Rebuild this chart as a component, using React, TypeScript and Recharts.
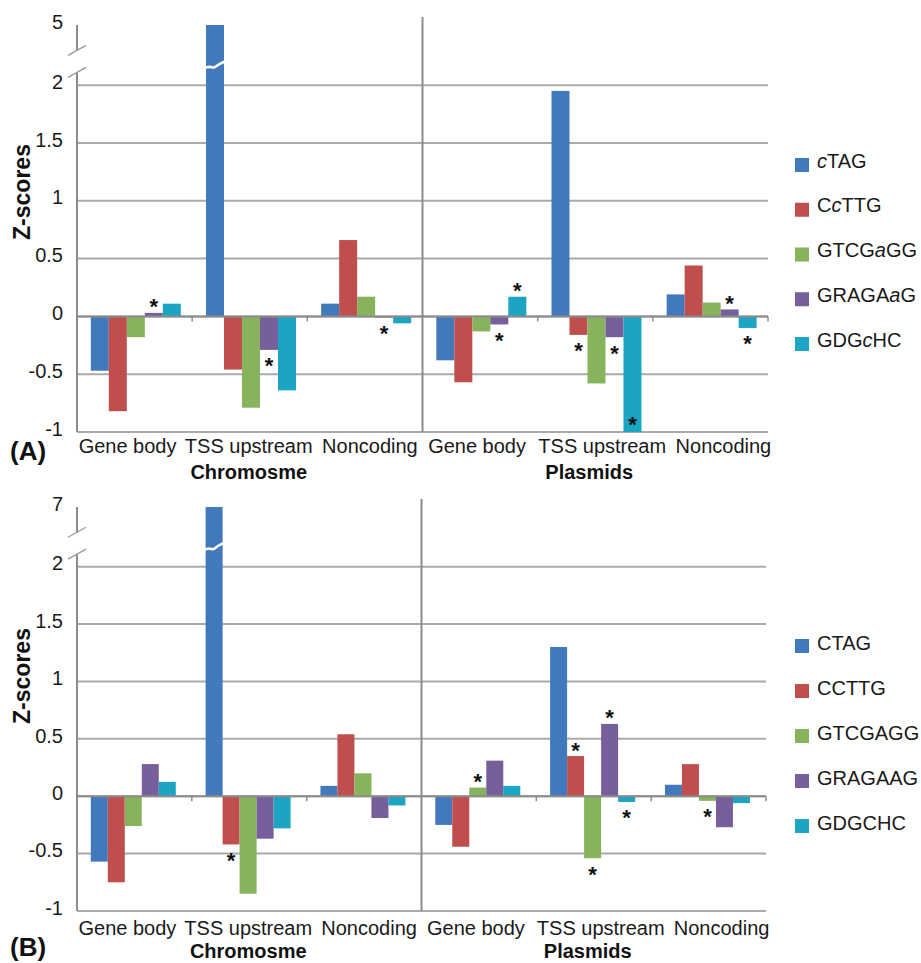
import React from "react";
import {
  BarChart,
  Bar,
  XAxis,
  YAxis,
  CartesianGrid,
  ReferenceLine,
  LabelList,
} from "recharts";

const categories = ["Gene body", "TSS upstream", "Noncoding", "Gene body", "TSS upstream", "Noncoding"];
const groups = ["Chromosme", "Chromosme", "Chromosme", "Plasmids", "Plasmids", "Plasmids"];
const colors = ["#4179BC", "#BF4E4C", "#88B35D", "#765F9B", "#1BA5C2"];

// motif names as [before, italic, after]
const namesA = [["", "c", "TAG"], ["C", "c", "TTG"], ["GTCG", "a", "GG"], ["GRAGA", "a", "G"], ["GDG", "c", "HC"]];
const namesB = [["CTAG", "", ""], ["CCTTG", "", ""], ["GTCGAGG", "", ""], ["GRAGAAG", "", ""], ["GDGCHC", "", ""]];

// panel A
const ctagA = [-0.47, 5, 0.11, -0.38, 1.95, 0.19];
const cctgA = [-0.82, -0.46, 0.66, -0.57, -0.16, 0.44];
const gtcgaggA = [-0.18, -0.79, 0.17, -0.13, -0.58, 0.12];
const gragaagA = [0.03, -0.29, -0.01, -0.07, -0.18, 0.06];
const gdgchcA = [0.11, -0.64, -0.06, 0.17, -1.0, -0.1];
const starsA = [
  [0, 0, 0, 0, 0, 0],
  [0, 0, 0, 0, 1, 0],
  [0, 0, 0, 0, 0, 0],
  [1, 1, 1, 1, 1, 1],
  [0, 0, 0, 1, 1, 1],
];

// panel B
const ctagB = [-0.57, 7, 0.09, -0.25, 1.3, 0.1];
const cctgB = [-0.75, -0.42, 0.54, -0.44, 0.35, 0.28];
const gtcgaggB = [-0.26, -0.85, 0.2, 0.075, -0.54, -0.04];
const gragaagB = [0.28, -0.37, -0.19, 0.31, 0.63, -0.27];
const gdgchcB = [0.125, -0.28, -0.08, 0.09, -0.05, -0.06];
const starsB = [
  [0, 0, 0, 0, 0, 0],
  [0, 1, 0, 0, 1, 0],
  [0, 0, 0, 1, 1, 1],
  [0, 0, 0, 0, 1, 0],
  [0, 0, 0, 0, 1, 0],
];

const gridValues = [-1, -0.5, 0, 0.5, 1, 1.5, 2];

// broken axis: everything above SQUEEZE is squashed into the top strip
const TOP_D = 2.52;
const SQUEEZE = 2.2;
const CUT_D = 2.17;
const toAxis = (v: number, top: number) =>
  v <= SQUEEZE ? v : SQUEEZE + ((v - SQUEEZE) / (top - SQUEEZE)) * (TOP_D - SQUEEZE);

const LABEL_DX = [-7, -1, 5, -3, 7, 13];
const GROUP_DX = [0, -1, 0, 0, -6, 0];
const W = 921;
const PLOT_LEFT = 77;
const FONT = "'Liberation Sans', Arial, Helvetica, sans-serif";
const AXIS_GREY = "#8C8C8C";

const panels = [
  {
    tag: "(A)", top: 0, height: 492, mTop: 25, mRight: 153, xAxisH: 60, axisTop: 5,
    series: [ctagA, cctgA, gtcgaggA, gragaagA, gdgchcA], stars: starsA, names: namesA,
    legendY: 165, legendStep: 44.75, legendDy: 2.7, catDy: 21, grpDy: 46.5, zY: 192, tagY: 460,
  },
  {
    tag: "(B)", top: 480, height: 483, mTop: 27, mRight: 155, xAxisH: 52, axisTop: 7,
    series: [ctagB, cctgB, gtcgaggB, gragaagB, gdgchcB], stars: starsB, names: namesB,
    legendY: 166, legendStep: 45, legendDy: 4, catDy: 24, grpDy: 47, zY: 196, tagY: 476,
  },
];

function geom(p: any) {
  const plotTop = p.mTop;
  const plotBottom = p.height - p.xAxisH;
  const unit = (plotBottom - plotTop) / (TOP_D + 1);
  const plotRight = W - p.mRight;
  const band = (plotRight - PLOT_LEFT) / 6;
  const yOf = (d: number) => plotTop + (TOP_D - d) * unit;
  return { plotTop, plotBottom, unit, plotRight, band, yOf };
}

const BrokenBar = (props: any) => {
  const { x, y, width, height, fill, payload, k } = props;
  const top = Math.min(y, y + height);
  const h = Math.abs(height);
  const disp = payload[k];
  let cut = null;
  if (disp > SQUEEZE) {
    const base = top + h;
    const yb = base - (CUT_D / disp) * h;
    cut = (
      <path
        d={`M${x - 2},${yb + 3} C${x + width * 0.3},${yb - 1} ${x + width * 0.35},${yb + 4} ${x + width * 0.55},${yb + 1} S${x + width * 0.8},${yb - 2} ${x + width + 1},${yb - 4}`}
        stroke="#fff"
        strokeWidth={2.6}
        fill="none"
      />
    );
  }
  return (
    <g>
      <rect x={x} y={top} width={width} height={h} fill={fill} />
      {cut}
    </g>
  );
};

const Star = (props: any) => {
  const { x, y, width, height, index, marks, bottom, value } = props;
  if (!marks[index]) return null;
  const top = Math.min(y, y + height);
  const end = Math.max(y, y + height);
  let c = value >= 0 ? top - 11 : end + 11;
  if (c + 6 > bottom) c = end - 13;
  return (
    <text x={x + width / 2} y={c + 12.5} textAnchor="middle" fontSize={22} fontWeight="bold" fill="#111">
      *
    </text>
  );
};

const PanelDecor = ({ p }: any) => {
  const g = geom(p);
  const hi = g.yOf(2.3);
  const lo = g.yOf(2.11);
  return (
    <g>
      <line x1={PLOT_LEFT} x2={PLOT_LEFT} y1={g.plotTop} y2={hi} stroke={AXIS_GREY} strokeWidth={2} />
      <line x1={PLOT_LEFT} x2={PLOT_LEFT} y1={lo} y2={g.plotBottom} stroke={AXIS_GREY} strokeWidth={2} />
      <line x1={PLOT_LEFT - 9} x2={PLOT_LEFT + 9} y1={hi + 5} y2={hi - 5} stroke="#9A9A9A" strokeWidth={1.3} />
      <line x1={PLOT_LEFT - 9} x2={PLOT_LEFT + 9} y1={lo + 5} y2={lo - 5} stroke="#9A9A9A" strokeWidth={1.3} />
      <text
        x={30}
        y={p.zY}
        transform={`rotate(-90 30 ${p.zY})`}
        textAnchor="middle"
        fontSize={23}
        fontWeight="bold"
        fill="#111"
      >
        Z-scores
      </text>
      <text x={10} y={p.tagY} fontSize={26} fontWeight="bold" fill="#111">
        {p.tag}
      </text>
    </g>
  );
};

const makeXTick = (p: any) => (props: any) => {
  const { x, index, payload } = props;
  const g = geom(p);
  const zeroY = g.yOf(0);
  const right = x + g.band / 2;
  return (
    <g>
      {index !== 2 && (
        <line x1={right} x2={right} y1={zeroY} y2={zeroY + 5} stroke={AXIS_GREY} strokeWidth={1.5} />
      )}
      {index === 3 && (
        <line
          x1={x - g.band / 2}
          x2={x - g.band / 2}
          y1={g.plotTop - 8}
          y2={g.plotBottom}
          stroke={AXIS_GREY}
          strokeWidth={2}
        />
      )}
      <text x={x + LABEL_DX[index]} y={g.plotBottom + p.catDy} textAnchor="middle" fontSize={20} fill="#1a1a1a">
        {payload.value}
      </text>
      {index % 3 === 1 && (
        <text
          x={x + GROUP_DX[index]}
          y={g.plotBottom + p.grpDy}
          textAnchor="middle"
          fontSize={20}
          fontWeight="bold"
          fill="#111"
        >
          {groups[index]}
        </text>
      )}
    </g>
  );
};

const makeYTick = (p: any) => (props: any) => {
  const { x, y, payload } = props;
  const v = payload.value;
  const txt = v > 2.1 ? String(p.axisTop) : String(v);
  return (
    <text x={x} y={y - 3.5} dy="0.36em" textAnchor="end" fontSize={20} fill="#1a1a1a">
      {txt}
    </text>
  );
};

function Legend2({ p }: any) {
  return (
    <svg width={140} height={p.height} style={{ position: "absolute", left: 781, top: 0 }}>
      {p.names.map((n: string[], i: number) => {
        const cy = p.legendY + i * p.legendStep;
        return (
          <g key={i}>
            <rect x={14} y={cy - 7} width={14} height={14} fill={colors[i]} />
            <text x={36} y={cy + p.legendDy} fontSize={20} fill="#1a1a1a">
              {n[0]}
              <tspan fontStyle="italic">{n[1]}</tspan>
              {n[2]}
            </text>
          </g>
        );
      })}
    </svg>
  );
}

function Panel({ p }: any) {
  const g = geom(p);
  const data = categories.map((c, i) => {
    const row: any = { cat: c, grp: groups[i] };
    p.series.forEach((s: number[], si: number) => {
      row[`s${si}`] = toAxis(s[i], p.axisTop);
    });
    return row;
  });
  return (
    <div style={{ position: "absolute", left: 0, top: p.top, width: W, height: p.height }}>
      <BarChart
        width={W}
        height={p.height}
        data={data}
        margin={{ top: p.mTop, right: p.mRight, bottom: 0, left: 0 }}
        barCategoryGap="12%"
        barGap={0}
      >
        <CartesianGrid
          vertical={false}
          horizontalValues={gridValues}
          stroke="#AAAAAA"
          strokeWidth={2}
        />
        <XAxis
          dataKey="cat"
          height={p.xAxisH}
          axisLine={false}
          tickLine={false}
          tickSize={0}
          tickMargin={0}
          interval={0}
          tick={makeXTick(p)}
        />
        <YAxis
          width={PLOT_LEFT}
          domain={[-1, TOP_D]}
          ticks={[...gridValues, TOP_D]}
          allowDataOverflow
          axisLine={false}
          tickLine={false}
          tickSize={0}
          tickMargin={14}
          tick={makeYTick(p)}
          label={<PanelDecor p={p} />}
        />
        <ReferenceLine y={0} stroke={AXIS_GREY} strokeWidth={2} />
        {p.series.map((_: number[], si: number) => (
          <Bar
            key={si}
            dataKey={`s${si}`}
            fill={colors[si]}
            isAnimationActive={false}
            shape={(bp: any) => <BrokenBar {...bp} k={`s${si}`} />}
          >
            <LabelList
              dataKey={`s${si}`}
              content={(lp: any) => <Star {...lp} marks={p.stars[si]} bottom={g.plotBottom} />}
            />
          </Bar>
        ))}
      </BarChart>
      <Legend2 p={p} />
    </div>
  );
}

export default function App() {
  return (
    <div
      style={{
        position: "absolute",
        left: 0,
        top: 0,
        width: W,
        height: 963,
        background: "#fff",
        fontFamily: FONT,
      }}
    >
      {panels.map((p) => (
        <Panel key={p.tag} p={p} />
      ))}
    </div>
  );
}
